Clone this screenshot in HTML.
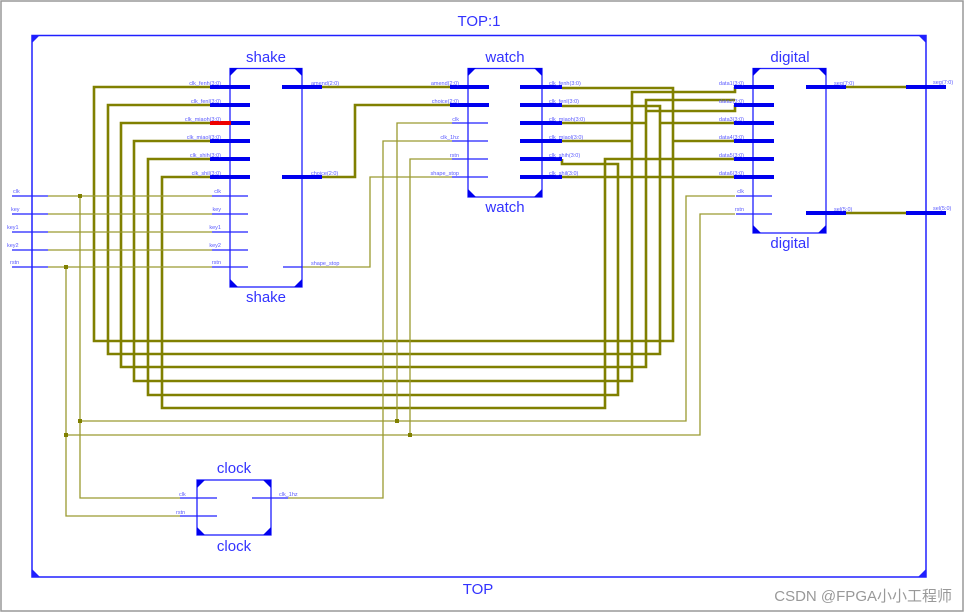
<!DOCTYPE html>
<html><head><meta charset="utf-8"><style>
html,body{margin:0;padding:0;background:#fff;}
svg{display:block;}
.t{font-family:"Liberation Sans",sans-serif;fill:#3333ff;}
.p{font-family:"Liberation Sans",sans-serif;fill:#5a5aff;font-size:5.5px;}
</style></head><body>
<svg width="968" height="613" viewBox="0 0 968 613" xmlns="http://www.w3.org/2000/svg">
<rect x="1" y="1" width="962" height="610" fill="#fff" stroke="#999" stroke-width="1.5"/>
<!-- TOP frame -->
<rect x="32" y="35.5" width="894" height="541.5" fill="none" stroke="#2020ff" stroke-width="1.5"/>
<g fill="#2020ff">
<polygon points="32,35 40,35 32,43"/><polygon points="926,35 918,35 926,43"/>
<polygon points="32,577 40,577 32,569"/><polygon points="926,577 918,577 926,569"/>
</g>
<text class="t" x="479" y="26" font-size="15" text-anchor="middle">TOP:1</text>
<text class="t" x="478" y="594" font-size="15" text-anchor="middle">TOP</text>
<text x="952" y="601" font-family="Liberation Sans,Noto Sans CJK SC,sans-serif" font-size="15" fill="#999" text-anchor="end">CSDN @FPGA小小工程师</text>

<!-- thick olive buses -->
<g fill="none" stroke="#808000" stroke-width="2.6">
<polyline points="212,87 94,87 94,341 673,341 673,88 562,88"/>
<polyline points="212,105 108,105 108,354 660,354 660,106 562,106"/>
<polyline points="212,123 121,123 121,367 646,367 646,100 735,100"/>
<polyline points="212,141 134,141 134,381 632,381 632,92 735,92 735,87"/>
<polyline points="212,159 148,159 148,395 618,395 618,164 562,164 562,159"/>
<polyline points="212,177 162,177 162,408 605,408 605,159 735,159"/>
<polyline points="562,123 646,123 646,123"/>
<polyline points="562,141 632,141"/>
<polyline points="562,177 618,177"/>
<polyline points="660,123 735,123"/>
<polyline points="673,141 735,141"/>
<polyline points="618,177 735,177"/>
<polyline points="646,111 735,111 735,105"/>
<polyline points="322,87 452,87"/>
<polyline points="322,177 355,177 355,105 452,105"/>
<polyline points="846,87 906,87"/>
<polyline points="846,213 906,213"/>
</g>
<!-- thin olive wires -->
<g fill="none" stroke="#9a9a30" stroke-width="1.3">
<line x1="48" y1="196" x2="212" y2="196"/>
<line x1="48" y1="214" x2="212" y2="214"/>
<line x1="48" y1="232" x2="212" y2="232"/>
<line x1="48" y1="250" x2="212" y2="250"/>
<line x1="48" y1="267" x2="212" y2="267"/>
<polyline points="80,196 80,498 180,498"/>
<polyline points="66,267 66,516 180,516"/>
<polyline points="80,421 686,421 686,196 735,196"/>
<polyline points="66,435 700,435 700,214 735,214"/>
<polyline points="397,421 397,123 452,123"/>
<polyline points="410,435 410,159 452,159"/>
<polyline points="288,498 383,498 383,141 452,141"/>
<polyline points="302,267 370,267 370,177 452,177"/>
</g>
<g fill="#808000">
<rect x="78" y="194" width="4" height="4"/><rect x="64" y="265" width="4" height="4"/>
<rect x="78" y="419" width="4" height="4"/><rect x="395" y="419" width="4" height="4"/>
<rect x="64" y="433" width="4" height="4"/><rect x="408" y="433" width="4" height="4"/>
</g>

<!-- top level ports -->
<g stroke="#2020ff" stroke-width="1.3">
<line x1="12" y1="196" x2="48" y2="196"/><line x1="12" y1="214" x2="48" y2="214"/>
<line x1="12" y1="232" x2="48" y2="232"/><line x1="12" y1="250" x2="48" y2="250"/>
<line x1="12" y1="267" x2="48" y2="267"/>
</g>
<text class="p" x="13" y="193">clk</text><text class="p" x="11" y="211">key</text>
<text class="p" x="7" y="229">key1</text><text class="p" x="7" y="247">key2</text>
<text class="p" x="10" y="264">rstn</text>
<g stroke="#0000ee" stroke-width="4">
<line x1="906" y1="87" x2="946" y2="87"/><line x1="906" y1="213" x2="946" y2="213"/>
</g>
<text class="p" x="933" y="84">seg(7:0)</text><text class="p" x="933" y="210">sel(5:0)</text>

<!-- shake -->
<rect x="230" y="68.5" width="72" height="218.5" fill="none" stroke="#2020ff" stroke-width="1.3"/>
<g fill="#0000ee">
<polygon points="230,68 238,68 230,76"/><polygon points="302,68 294,68 302,76"/>
<polygon points="230,287 238,287 230,279"/><polygon points="302,287 294,287 302,279"/>
</g>
<text class="t" x="266" y="62" font-size="15" text-anchor="middle">shake</text>
<text class="t" x="266" y="302" font-size="15" text-anchor="middle">shake</text>
<g stroke="#0000ee" stroke-width="4">
<line x1="210" y1="87" x2="250" y2="87"/><line x1="210" y1="105" x2="250" y2="105"/>
<line x1="231" y1="123" x2="250" y2="123"/><line x1="210" y1="141" x2="250" y2="141"/>
<line x1="210" y1="159" x2="250" y2="159"/><line x1="210" y1="177" x2="250" y2="177"/>
<line x1="282" y1="87" x2="322" y2="87"/><line x1="282" y1="177" x2="322" y2="177"/>
</g>
<line x1="210" y1="123" x2="231" y2="123" stroke="#ee0000" stroke-width="4"/>
<g stroke="#2020ff" stroke-width="1.3">
<line x1="212" y1="196" x2="248" y2="196"/><line x1="212" y1="214" x2="248" y2="214"/>
<line x1="212" y1="232" x2="248" y2="232"/><line x1="212" y1="250" x2="248" y2="250"/>
<line x1="212" y1="267" x2="248" y2="267"/><line x1="283" y1="267" x2="302" y2="267"/>
</g>
<g class="p" text-anchor="end">
<text x="221" y="85">clk_fenh(3:0)</text><text x="221" y="103">clk_fenl(3:0)</text>
<text x="221" y="121">clk_miaoh(3:0)</text><text x="221" y="139">clk_miaol(3:0)</text>
<text x="221" y="157">clk_shih(3:0)</text><text x="221" y="175">clk_shil(3:0)</text>
<text x="221" y="193">clk</text><text x="221" y="211">key</text><text x="221" y="229">key1</text>
<text x="221" y="247">key2</text><text x="221" y="264">rstn</text>
</g>
<text class="p" x="311" y="85">amend(2:0)</text><text class="p" x="311" y="175">choice(2:0)</text>
<text class="p" x="311" y="265">shape_stop</text>

<!-- watch -->
<rect x="468" y="68.5" width="74" height="128.5" fill="none" stroke="#2020ff" stroke-width="1.3"/>
<g fill="#0000ee">
<polygon points="468,68 476,68 468,76"/><polygon points="542,68 534,68 542,76"/>
<polygon points="468,197 476,197 468,189"/><polygon points="542,197 534,197 542,189"/>
</g>
<text class="t" x="505" y="62" font-size="15" text-anchor="middle">watch</text>
<text class="t" x="505" y="212" font-size="15" text-anchor="middle">watch</text>
<g stroke="#0000ee" stroke-width="4">
<line x1="450" y1="87" x2="489" y2="87"/><line x1="450" y1="105" x2="489" y2="105"/>
<line x1="520" y1="87" x2="562" y2="87"/><line x1="520" y1="105" x2="562" y2="105"/>
<line x1="520" y1="123" x2="562" y2="123"/><line x1="520" y1="141" x2="562" y2="141"/>
<line x1="520" y1="159" x2="562" y2="159"/><line x1="520" y1="177" x2="562" y2="177"/>
</g>
<g stroke="#2020ff" stroke-width="1.3">
<line x1="452" y1="123" x2="488" y2="123"/><line x1="452" y1="141" x2="488" y2="141"/>
<line x1="452" y1="159" x2="488" y2="159"/><line x1="452" y1="177" x2="488" y2="177"/>
</g>
<g class="p" text-anchor="end">
<text x="459" y="85">amend(2:0)</text><text x="459" y="103">choice(2:0)</text>
<text x="459" y="121">clk</text><text x="459" y="139">clk_1hz</text>
<text x="459" y="157">rstn</text><text x="459" y="175">shape_stop</text>
</g>
<g class="p">
<text x="549" y="85">clk_fenh(3:0)</text><text x="549" y="103">clk_fenl(3:0)</text>
<text x="549" y="121">clk_miaoh(3:0)</text><text x="549" y="139">clk_miaol(3:0)</text>
<text x="549" y="157">clk_shih(3:0)</text><text x="549" y="175">clk_shil(3:0)</text>
</g>

<!-- digital -->
<rect x="753" y="68.5" width="73" height="164.5" fill="none" stroke="#2020ff" stroke-width="1.3"/>
<g fill="#0000ee">
<polygon points="753,68 761,68 753,76"/><polygon points="826,68 818,68 826,76"/>
<polygon points="753,233 761,233 753,225"/><polygon points="826,233 818,233 826,225"/>
</g>
<text class="t" x="790" y="62" font-size="15" text-anchor="middle">digital</text>
<text class="t" x="790" y="248" font-size="15" text-anchor="middle">digital</text>
<g stroke="#0000ee" stroke-width="4">
<line x1="734" y1="87" x2="774" y2="87"/><line x1="734" y1="105" x2="774" y2="105"/>
<line x1="734" y1="123" x2="774" y2="123"/><line x1="734" y1="141" x2="774" y2="141"/>
<line x1="734" y1="159" x2="774" y2="159"/><line x1="734" y1="177" x2="774" y2="177"/>
<line x1="806" y1="87" x2="846" y2="87"/><line x1="806" y1="213" x2="846" y2="213"/>
</g>
<g stroke="#2020ff" stroke-width="1.3">
<line x1="736" y1="196" x2="772" y2="196"/><line x1="736" y1="214" x2="772" y2="214"/>
</g>
<g class="p" text-anchor="end">
<text x="744" y="85">data1(3:0)</text><text x="744" y="103">data2(3:0)</text>
<text x="744" y="121">data3(3:0)</text><text x="744" y="139">data4(3:0)</text>
<text x="744" y="157">data5(3:0)</text><text x="744" y="175">data6(3:0)</text>
<text x="744" y="193">clk</text><text x="744" y="211">rstn</text>
</g>
<text class="p" x="834" y="85">seg(7:0)</text><text class="p" x="834" y="211">sel(5:0)</text>

<!-- clock -->
<rect x="197" y="480" width="74" height="55" fill="none" stroke="#2020ff" stroke-width="1.3"/>
<g fill="#0000ee">
<polygon points="197,480 205,480 197,488"/><polygon points="271,480 263,480 271,488"/>
<polygon points="197,535 205,535 197,527"/><polygon points="271,535 263,535 271,527"/>
</g>
<text class="t" x="234" y="473" font-size="15" text-anchor="middle">clock</text>
<text class="t" x="234" y="551" font-size="15" text-anchor="middle">clock</text>
<g stroke="#2020ff" stroke-width="1.3">
<line x1="180" y1="498" x2="217" y2="498"/><line x1="180" y1="516" x2="217" y2="516"/>
<line x1="252" y1="498" x2="288" y2="498"/>
</g>
<text class="p" x="179" y="496">clk</text><text class="p" x="176" y="514">rstn</text>
<text class="p" x="279" y="496">clk_1hz</text>
</svg>
</body></html>
